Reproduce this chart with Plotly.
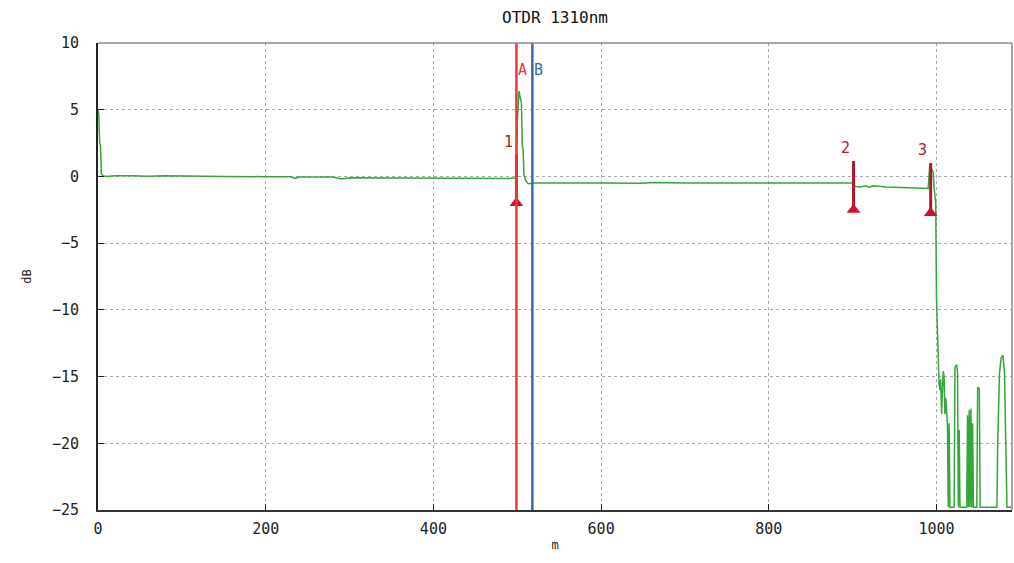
import plotly.graph_objects as go

# ---- data -------------------------------------------------------------
trace_x = [0, 1, 2, 3, 4, 6, 10, 20, 40, 60, 80, 100, 150, 200, 230, 235, 240,
           280, 290, 300, 350, 400, 450, 490, 497, 499, 500, 502, 504, 505, 506,
           507, 508, 510, 513, 520, 600, 650, 660, 680, 700, 800, 880, 900, 903,
           910, 915, 920, 925, 935, 940, 950, 960, 990, 992, 994, 996, 997, 999,
           1000, 1001, 1002, 1003, 1004, 1005, 1006, 1007, 1008, 1009, 1010, 1011,
           1012, 1013, 1014, 1015, 1016, 1017, 1021, 1022, 1024, 1025, 1026, 1027,
           1028, 1036, 1037, 1038, 1039, 1040, 1041, 1042, 1043, 1044, 1048, 1049,
           1051, 1052, 1072, 1073, 1075, 1077, 1079, 1081, 1084, 1090]
trace_db = [5.0, 4.6, 2.5, 2.3, 0.2, 0.05, 0.0, 0.05, 0.05, 0.02, 0.05, 0.02, 0.0,
            -0.02, -0.03, -0.15, -0.05, -0.05, -0.2, -0.1, -0.12, -0.15, -0.15,
            -0.15, -0.12, -0.1, 4.0, 6.4, 5.8, 5.5, 2.3, 2.0, 0.1, -0.3, -0.55,
            -0.5, -0.5, -0.52, -0.45, -0.5, -0.5, -0.5, -0.5, -0.5, -0.75, -0.8,
            -0.7, -0.8, -0.7, -0.8, -0.8, -0.82, -0.85, -0.9, 0.9, 0.6, 0.3, -0.8,
            -2.0, -9.2, -12.0, -13.0, -15.5, -16.0, -15.2, -17.8, -16.5, -14.6,
            -15.0, -17.8, -16.6, -18.2, -18.6, -24.8, -18.5, -24.8, -24.8, -24.8,
            -14.3, -14.1, -14.6, -24.8, -19.0, -24.8, -24.8, -17.9, -24.8, -17.5,
            -24.8, -17.4, -24.8, -18.5, -24.8, -24.8, -15.8, -15.9, -24.8, -24.8,
            -20.0, -14.8, -13.6, -13.4, -14.6, -24.8, -24.8]

cursor_x = [499, 518]
cursor_names = ["A", "B"]
cursor_colors = ["#e83a3a", "#3b66b5"]

event_x = [499, 901, 993]
event_labels = ["1", "2", "3"]
event_top = [1.6, 1.15, 1.0]
event_base = [-2.0, -2.5, -2.75]

x_ticks = [0, 200, 400, 600, 800, 1000]
y_ticks = [10, 5, 0, -5, -10, -15, -20, -25]

# ---- figure -----------------------------------------------------------
FONT = "DejaVu Sans Mono"
fig = go.Figure()

fig.add_trace(go.Scatter(x=trace_x, y=trace_db, mode="lines",
                         line=dict(color="#34a63a", width=1.5),
                         showlegend=False, hoverinfo="skip"))

# cursors
for cx, cname, ccol in zip(cursor_x, cursor_names, cursor_colors):
    fig.add_vline(x=cx, line=dict(color=ccol, width=2.5), layer="above")
    fig.add_annotation(x=cx, y=8.0, text=cname, showarrow=False, xshift=6,
                       font=dict(family=FONT, size=15, color=ccol))

# event markers
for ex, lab, top, base in zip(event_x, event_labels, event_top, event_base):
    fig.add_trace(go.Scatter(x=[ex, ex], y=[base, top], mode="lines",
                             line=dict(color="#b8142c", width=3),
                             showlegend=False, hoverinfo="skip"))
    fig.add_trace(go.Scatter(x=[ex], y=[base], mode="markers",
                             marker=dict(symbol="triangle-up", size=12,
                                         color="#d0102e"),
                             showlegend=False, hoverinfo="skip"))
    fig.add_annotation(x=ex, y=top, text=lab, showarrow=False, xshift=-8,
                       yshift=13, font=dict(family=FONT, size=15, color="#b8142c"))

# frame: top and right grey borders
fig.add_shape(type="line", xref="paper", yref="paper", x0=0, x1=1, y0=1, y1=1,
              line=dict(color="#8a8a8a", width=1.5))
fig.add_shape(type="line", xref="paper", yref="paper", x0=1, x1=1, y0=0, y1=1,
              line=dict(color="#8a8a8a", width=1.5))

fig.update_layout(
    width=1014, height=563,
    margin=dict(l=98, r=2, t=43, b=53, autoexpand=False),
    paper_bgcolor="white", plot_bgcolor="white",
    title=dict(text="OTDR 1310nm", x=0.5, xref="paper", y=1 - 17 / 563,
               yanchor="middle",
               font=dict(family=FONT, size=16, color="#111")),
    font=dict(family=FONT, size=14, color="#222"),
)
fig.update_xaxes(range=[0, 1090], tickvals=x_ticks, ticks="inside", ticklen=6,
                 tickcolor="#222", showline=True, linecolor="#333", linewidth=1.5,
                 showgrid=True, gridcolor="#a8a8a8", griddash="dot", gridwidth=1,
                 zeroline=False, ticklabelstandoff=4, automargin=False,
                 tickfont=dict(family=FONT, size=15, color="#222"),
                 title=dict(text="m", font=dict(family=FONT, size=12), standoff=4))
fig.update_yaxes(range=[-25, 10], tickvals=y_ticks, ticks="inside", ticklen=6,
                 tickcolor="#222", showline=True, linecolor="#222", linewidth=2,
                 showgrid=True, gridcolor="#a8a8a8", griddash="dot", gridwidth=1,
                 zeroline=False, ticklabelstandoff=14, automargin=False,
                 tickfont=dict(family=FONT, size=15, color="#222"),
                 title=dict(text="dB", font=dict(family=FONT, size=12), standoff=18))

fig.write_html("out.html", config={"displayModeBar": False},
               post_script="document.body.style.margin='0';"
                           "document.body.style.overflow='hidden';")
